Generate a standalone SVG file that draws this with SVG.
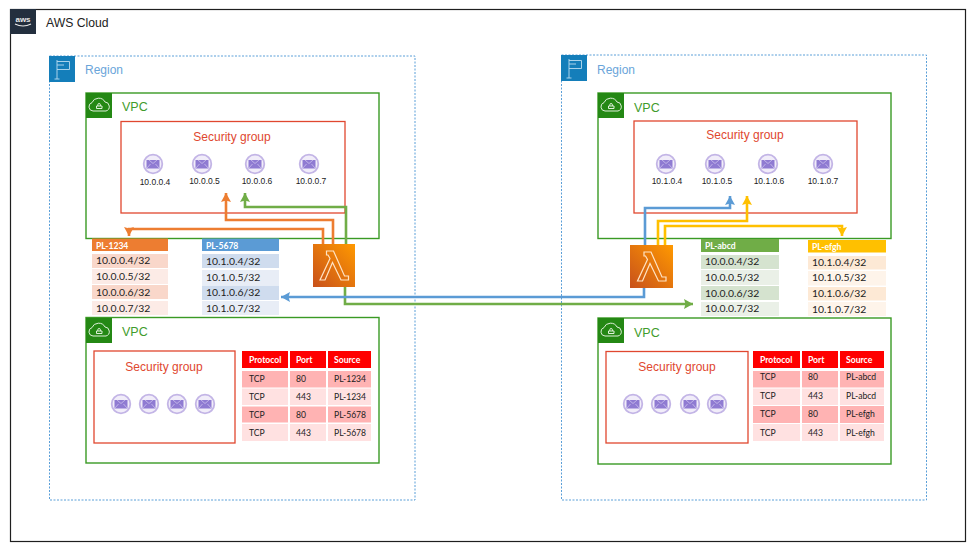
<svg xmlns="http://www.w3.org/2000/svg" width="977" height="550" viewBox="0 0 977 550">
<style>
text{font-family:"Liberation Sans",Arial,sans-serif}
.cell{font-family:Lato,"Liberation Sans",sans-serif;font-size:8.600px;fill:#222}
.pl{font-family:Lato,"Liberation Sans",sans-serif;font-size:10.400px;fill:#222}
.hd{font-family:Lato,"Liberation Sans",sans-serif;font-size:8.600px;font-weight:700;fill:#fff}
.ip{font-size:8.500px;fill:#222;text-anchor:middle}
.region{fill:none;stroke:#5a9fd8;stroke-width:1;stroke-dasharray:2 1.5}
.vpc{fill:none;stroke:#3a9a24;stroke-width:1.400}
.sg{fill:none;stroke:#e0472f;stroke-width:1.300}
.vl{font-size:12.500px;fill:#3f9c2c}
.rl{font-size:12px;fill:#6aa5da}
.sl{font-size:12px;fill:#e0472f;text-anchor:middle}
.c{fill:none;stroke-width:2.600;stroke-linejoin:miter}
.o{stroke:#ed7d31}.g{stroke:#70ad47}.b{stroke:#5b9bd5}.y{stroke:#ffc000}
</style>
<defs>
<linearGradient id="lam" x1="0" y1="1" x2="1" y2="0"><stop offset="0" stop-color="#c8511b"/><stop offset="1" stop-color="#f90"/></linearGradient>
<marker id="ao" markerUnits="userSpaceOnUse" markerWidth="10" markerHeight="10" refX="9" refY="5" orient="auto"><path d="M0 0L9 5L0 10L1.500 5z" fill="#ed7d31"/></marker>
<marker id="ag" markerUnits="userSpaceOnUse" markerWidth="10" markerHeight="10" refX="9" refY="5" orient="auto"><path d="M0 0L9 5L0 10L1.500 5z" fill="#70ad47"/></marker>
<marker id="ab" markerUnits="userSpaceOnUse" markerWidth="10" markerHeight="10" refX="9" refY="5" orient="auto"><path d="M0 0L9 5L0 10L1.500 5z" fill="#5b9bd5"/></marker>
<marker id="ay" markerUnits="userSpaceOnUse" markerWidth="10" markerHeight="10" refX="9" refY="5" orient="auto"><path d="M0 0L9 5L0 10L1.500 5z" fill="#ffc000"/></marker>
<g id="inst"><circle r="9.300" fill="#f1edf9" stroke="#c3b5e6" stroke-width="1.800"/><path d="M-6.500 -4H6.500V4.500H-6.500z" fill="#8f7bd2"/><path d="M-6.500 4.500L-2.500 0M6.500 4.500L2.500 0M-4 -4L0 -.5L4 -4" fill="none" stroke="#d5cbf0" stroke-width=".7"/></g>
<g id="vpcicon"><rect width="26" height="25" fill="#248814"/><path d="M7 18a4.300 4.300 0 0 1 -1 -8.400a7 6.500 0 0 1 13 -.6a4.600 4.600 0 0 1 1 9zM10.500 15.500h5.500v-2.500h-5.500zM11.800 13v-1.200a1.300 1.300 0 0 1 2.600 0V13" fill="none" stroke="#dff0da" stroke-width="1"/></g>
<g id="regicon"><rect width="26" height="26" fill="#147eba"/><path d="M8 23V4M8 5.500H20.500V13.500H8M5.500 23H10.500M8 9H15" fill="none" stroke="#b9dbef" stroke-width=".9"/></g>
<path id="lambda" d="M14 7H21L32 32H36V36H28.500L20 18.500L12.500 36H7.500L17.500 14.500L15.500 11H14z" fill="none" stroke="#ffe3c4" stroke-width="1.200"/>
</defs>
<rect width="977" height="550" fill="#fff"/>
<g id="aws-cloud"><rect x="10.500" y="9.500" width="955" height="532" fill="none" stroke="#1f1f1f" stroke-width="1.200"/><rect x="10" y="9" width="26" height="25" fill="#232f3e"/><text x="23" y="22" font-size="8" font-weight="700" fill="#e8e8e8" text-anchor="middle">aws</text><path d="M15 24q8 4 16 0" fill="none" stroke="#e8e8e8" stroke-width="1.200"/><text x="46" y="27" font-size="12.200" fill="#222">AWS Cloud</text></g>

<g id="region-left"><rect class="region" x="49.500" y="56" width="365.500" height="444"/><use href="#regicon" x="49" y="56"/><text class="rl" x="85" y="74">Region</text></g>
<g id="region-right"><rect class="region" x="561.500" y="55" width="365" height="445"/><use href="#regicon" x="561" y="55"/><text class="rl" x="597" y="74">Region</text></g>

<g id="vpc-left-top"><rect class="vpc" x="86" y="93" width="293" height="145.500"/><use href="#vpcicon" x="86" y="93"/><text class="vl" x="122" y="111">VPC</text></g>
<g id="sg-left-top"><rect class="sg" x="121" y="121.500" width="224" height="91.500"/><text class="sl" x="232" y="141">Security group</text></g>
<g id="i1"><use href="#inst" x="153" y="164"/><text class="ip" x="155" y="185">10.0.0.4</text></g>
<g id="i2"><use href="#inst" x="202" y="164"/><text class="ip" x="204.500" y="184">10.0.0.5</text></g>
<g id="i3"><use href="#inst" x="255" y="164"/><text class="ip" x="257" y="184">10.0.0.6</text></g>
<g id="i4"><use href="#inst" x="309" y="164"/><text class="ip" x="311" y="184">10.0.0.7</text></g>

<g id="vpc-left-bottom"><rect class="vpc" x="86" y="317.500" width="293" height="145.500"/><use href="#vpcicon" x="86" y="318"/><text class="vl" x="122" y="336">VPC</text></g>
<g id="sg-left-bottom"><rect class="sg" x="94" y="351" width="141" height="92"/><text class="sl" x="164" y="371">Security group</text><use href="#inst" x="121" y="404"/><use href="#inst" x="149" y="404"/><use href="#inst" x="177" y="404"/><use href="#inst" x="205" y="404"/></g>

<g id="rules-left">
<rect x="242" y="351" width="46" height="17" fill="#f00"/><rect x="290" y="351" width="36" height="17" fill="#f00"/><rect x="328" y="351" width="43" height="17" fill="#f00"/>
<text class="hd" x="249" y="363">Protocol</text><text class="hd" x="296" y="363">Port</text><text class="hd" x="334" y="363">Source</text>
<rect x="242" y="371" width="129" height="16.500" fill="#ffb3b3"/><rect x="242" y="388.500" width="129" height="16.500" fill="#ffe1e1"/><rect x="242" y="406.500" width="129" height="16" fill="#ffb3b3"/><rect x="242" y="424" width="129" height="17" fill="#ffe1e1"/>
<path d="M289 371V441M327 371V441" stroke="#fff" stroke-width="2"/>
<text class="cell" x="249" y="382">TCP</text><text class="cell" x="296" y="382">80</text><text class="cell" x="334" y="382">PL-1234</text>
<text class="cell" x="249" y="400">TCP</text><text class="cell" x="296" y="400">443</text><text class="cell" x="334" y="400">PL-1234</text>
<text class="cell" x="249" y="418">TCP</text><text class="cell" x="296" y="418">80</text><text class="cell" x="334" y="418">PL-5678</text>
<text class="cell" x="249" y="436">TCP</text><text class="cell" x="296" y="436">443</text><text class="cell" x="334" y="436">PL-5678</text>
</g>

<g id="pl-1234"><rect x="92" y="238.500" width="76" height="12.500" fill="#ed7d31"/><text class="hd" x="96" y="248.500">PL-1234</text>
<rect x="92" y="254" width="76" height="14" fill="#f9d7ca"/><rect x="92" y="269" width="76" height="15" fill="#fcebe6"/><rect x="92" y="285" width="76" height="14" fill="#f9d7ca"/><rect x="92" y="301" width="76" height="14" fill="#fcebe6"/>
<text class="pl" x="96" y="264">10.0.0.4/32</text><text class="pl" x="96" y="279.500">10.0.0.5/32</text><text class="pl" x="96" y="295.500">10.0.0.6/32</text><text class="pl" x="96" y="311.500">10.0.0.7/32</text></g>

<g id="pl-5678"><rect x="202" y="238.500" width="77" height="12.500" fill="#5b9bd5"/><text class="hd" x="206" y="248.500">PL-5678</text>
<rect x="202" y="254" width="77" height="14" fill="#cfdcee"/><rect x="202" y="270" width="77" height="15" fill="#e8edf6"/><rect x="202" y="285.500" width="77" height="14.500" fill="#cfdcee"/><rect x="202" y="301" width="77" height="14" fill="#e8edf6"/>
<text class="pl" x="206" y="264.500">10.1.0.4/32</text><text class="pl" x="206" y="280.500">10.1.0.5/32</text><text class="pl" x="206" y="295.500">10.1.0.6/32</text><text class="pl" x="206" y="311.500">10.1.0.7/32</text></g>

<g id="vpc-right-top"><rect class="vpc" x="598" y="93" width="293" height="145.500"/><use href="#vpcicon" x="598" y="93"/><text class="vl" x="634" y="112">VPC</text></g>
<g id="sg-right-top"><rect class="sg" x="634" y="121" width="223" height="92"/><text class="sl" x="745" y="139">Security group</text></g>
<g id="i5"><use href="#inst" x="666" y="164"/><text class="ip" x="667" y="184">10.1.0.4</text></g>
<g id="i6"><use href="#inst" x="715" y="164"/><text class="ip" x="717" y="184">10.1.0.5</text></g>
<g id="i7"><use href="#inst" x="768" y="164"/><text class="ip" x="769" y="184">10.1.0.6</text></g>
<g id="i8"><use href="#inst" x="823" y="164"/><text class="ip" x="823" y="184">10.1.0.7</text></g>

<g id="vpc-right-bottom"><rect class="vpc" x="598" y="318" width="293" height="146"/><use href="#vpcicon" x="598" y="318"/><text class="vl" x="634" y="337">VPC</text></g>
<g id="sg-right-bottom"><rect class="sg" x="606" y="351.500" width="142" height="91.500"/><text class="sl" x="677" y="371">Security group</text><use href="#inst" x="633" y="404"/><use href="#inst" x="661" y="404"/><use href="#inst" x="690" y="404"/><use href="#inst" x="717" y="404"/></g>

<g id="rules-right">
<rect x="753" y="351" width="47" height="17" fill="#f00"/><rect x="802" y="351" width="36" height="17" fill="#f00"/><rect x="840" y="351" width="44" height="17" fill="#f00"/>
<text class="hd" x="760" y="363">Protocol</text><text class="hd" x="808" y="363">Port</text><text class="hd" x="846" y="363">Source</text>
<rect x="753" y="371" width="131" height="16.500" fill="#ffb3b3"/><rect x="753" y="388.500" width="131" height="16.500" fill="#ffe1e1"/><rect x="753" y="406" width="131" height="17" fill="#ffb3b3"/><rect x="753" y="424" width="131" height="17" fill="#ffe1e1"/>
<path d="M801 371V441M839 371V441" stroke="#fff" stroke-width="2"/>
<text class="cell" x="760" y="380">TCP</text><text class="cell" x="808" y="380">80</text><text class="cell" x="846" y="380">PL-abcd</text>
<text class="cell" x="760" y="399">TCP</text><text class="cell" x="808" y="399">443</text><text class="cell" x="846" y="399">PL-abcd</text>
<text class="cell" x="760" y="417">TCP</text><text class="cell" x="808" y="417">80</text><text class="cell" x="846" y="417">PL-efgh</text>
<text class="cell" x="760" y="436">TCP</text><text class="cell" x="808" y="436">443</text><text class="cell" x="846" y="436">PL-efgh</text>
</g>

<g id="pl-abcd"><rect x="701" y="239" width="78" height="13" fill="#70ad47"/><text class="hd" x="705" y="249">PL-abcd</text>
<rect x="701" y="255" width="78" height="14" fill="#d5e3cf"/><rect x="701" y="270" width="78" height="15" fill="#eaf0e7"/><rect x="701" y="286" width="78" height="14" fill="#d5e3cf"/><rect x="701" y="302" width="78" height="14" fill="#eaf0e7"/>
<text class="pl" x="705" y="264.500">10.0.0.4/32</text><text class="pl" x="705" y="280.500">10.0.0.5/32</text><text class="pl" x="705" y="296.500">10.0.0.6/32</text><text class="pl" x="705" y="311.500">10.0.0.7/32</text></g>

<g id="pl-efgh"><rect x="808" y="240" width="78" height="12.500" fill="#ffc000"/><text class="hd" x="812" y="250">PL-efgh</text>
<rect x="808" y="256" width="78" height="13.500" fill="#fde9d5"/><rect x="808" y="271" width="78" height="14.500" fill="#fef4ea"/><rect x="808" y="287" width="78" height="13.500" fill="#fde9d5"/><rect x="808" y="302" width="78" height="14" fill="#fef4ea"/>
<text class="pl" x="812" y="266">10.1.0.4/32</text><text class="pl" x="812" y="280.500">10.1.0.5/32</text><text class="pl" x="812" y="296.500">10.1.0.6/32</text><text class="pl" x="812" y="312.500">10.1.0.7/32</text></g>

<g id="connectors">
<path class="c o" marker-end="url(#ao)" d="M333 244V220H226V193"/>
<path class="c o" marker-end="url(#ao)" d="M323 244V229H129V236"/>
<path class="c g" marker-end="url(#ag)" d="M346 244V207H245V193"/>
<path class="c g" marker-end="url(#ag)" d="M345 287V304H693"/>
<path class="c b" marker-end="url(#ab)" d="M644 288V297H281"/>
<path class="c b" marker-end="url(#ab)" d="M645 245V208H730V196"/>
<path class="c y" marker-end="url(#ay)" d="M658 245V221H747V196"/>
<path class="c y" marker-end="url(#ay)" d="M665 245V226H842V236"/>
</g>

<g id="lambda-left"><rect x="313" y="244" width="42" height="43" fill="url(#lam)"/><use href="#lambda" x="312.500" y="244"/></g>
<g id="lambda-right"><rect x="630" y="245" width="43" height="43" fill="url(#lam)"/><use href="#lambda" x="630" y="245"/></g>
</svg>
